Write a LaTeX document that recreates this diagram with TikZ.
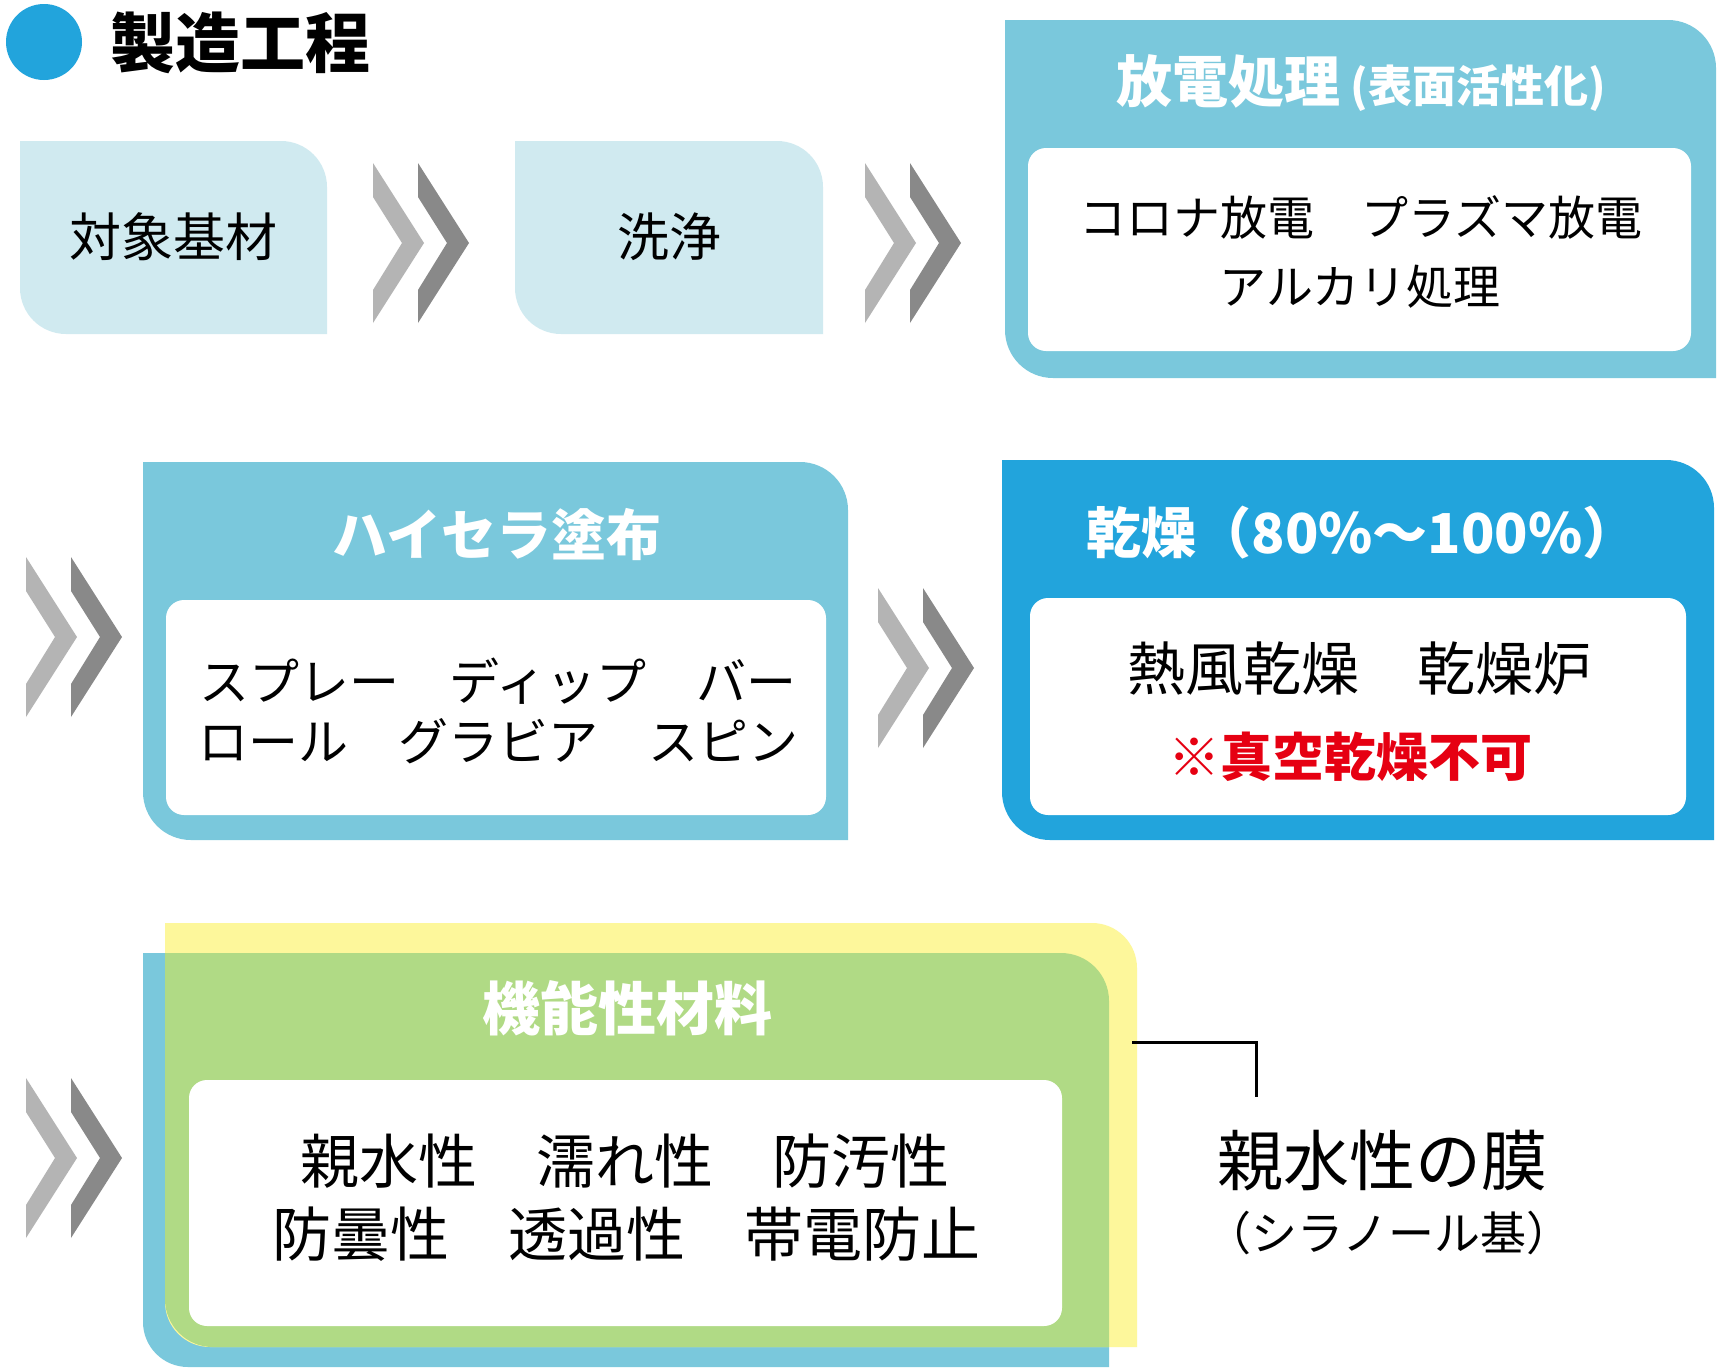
\documentclass[tikz,border=0pt]{standalone}
\usepackage{fontspec}
\setmainfont{Noto Sans CJK JP}
\definecolor{cLight}{HTML}{D0EAF0}
\definecolor{cTeal}{HTML}{7AC8DC}
\definecolor{cBlue}{HTML}{22A4DC}
\definecolor{cGreen}{HTML}{B0DA85}
\definecolor{cYellow}{HTML}{FDF79B}
\definecolor{chevL}{HTML}{B4B4B4}
\definecolor{chevD}{HTML}{898989}
\definecolor{cRed}{HTML}{E60012}
\newcommand\tbbox[6]{%
  \fill[#1] (#2,-#3) -- ({#4-#6},-#3) arc[start angle=90,end angle=0,radius=#6] -- (#4,-#5) -- ({#2+#6},-#5) arc[start angle=270,end angle=180,radius=#6] -- cycle;}
\newcommand\fsz[1]{\fontsize{#1}{#1}\selectfont}
\begin{document}
\begin{tikzpicture}[x=1pt,y=1pt,
  lbl/.style={inner sep=0pt, anchor=center},
  wbox/.style={fill=white, rounded corners=18pt, inner sep=0pt, draw=none},
  ttl/.style={lbl, text=white, font=\bfseries\fsz{55}},
  chev/.pic={
    \fill[chevL] (0,0) -- (51,-80) -- (0,-160) -- (0,-127) -- (29,-80) -- (0,-34) -- cycle;
    \fill[chevD] (45,0) -- (96,-80) -- (45,-160) -- (45,-127) -- (74,-80) -- (45,-34) -- cycle;
  }]
\useasboundingbox (0,0) rectangle (1720,-1368);
\fill[white] (0,0) rectangle (1720,-1368);

% heading
\node[circle, fill=cBlue, minimum size=76pt, inner sep=0pt] (dot) at (44,-42) {};
\node[lbl, font=\bfseries\fsz{65}] (title) at (240,-43) {製造工程};

% row 1
\tbbox{cLight}{20}{141}{327}{334}{46}
\node[lbl, font=\fsz{52}] (t1) at (173,-237) {対象基材};
\pic at (373,-163) {chev};
\tbbox{cLight}{515}{141}{823}{334}{46}
\node[lbl, font=\fsz{52}] (t2) at (669,-237) {洗浄};
\pic at (865,-163) {chev};
\tbbox{cTeal}{1005}{20}{1716}{378}{48}
\node[wbox, minimum width=663pt, minimum height=203pt] (w3) at (1359.5,-249.5) {};
\node[ttl, font=\bfseries\fsz{56}] (t3) at (1361,-83) {放電処理\fsz{44}\ (表面活性化)};
\node[lbl, font=\fsz{47}] (t3a) at (1361,-217) {コロナ放電　プラズマ放電};
\node[lbl, font=\fsz{47}] (t3b) at (1360,-287) {アルカリ処理};

% row 2
\pic at (26,-557) {chev};
\tbbox{cTeal}{143}{462}{848}{840}{48}
\node[wbox, minimum width=660pt, minimum height=215pt] (w4) at (496,-707.5) {};
\node[ttl] (t4) at (497,-534) {ハイセラ塗布};
\node[lbl, font=\fsz{50}] (t4a) at (498,-681) {スプレー　ディップ　バー};
\node[lbl, font=\fsz{50}] (t4b) at (498,-741) {ロール　グラビア　スピン};
\pic at (878,-588) {chev};
\tbbox{cBlue}{1002}{460}{1714}{840}{48}
\node[wbox, minimum width=656pt, minimum height=217pt] (w5) at (1358,-706.5) {};
\node[ttl] (t5) at (1362,-533) {乾燥（80\%～100\%）};
\node[lbl, font=\fsz{58}] (t5a) at (1359,-669) {熱風乾燥　乾燥炉};
\node[lbl, font=\fsz{52}, text=cRed] (t5b) at (1350,-757) {※{\bfseries 真空乾燥不可}};

% row 3
\pic at (26,-1078) {chev};
\fill[cTeal] (143,-953) -- (1109,-953) -- (1109,-1367) -- (188,-1367) arc[start angle=270,end angle=180,radius=45] -- cycle;
\tbbox{cYellow}{165}{923}{1137}{1347}{45}
\tbbox{cGreen}{165}{953}{1109}{1347}{48}
\node[wbox, minimum width=873pt, minimum height=246pt] (w6) at (625.5,-1203) {};
\node[ttl, font=\bfseries\fsz{58}] (t6) at (627,-1008) {機能性材料};
\node[lbl, font=\fsz{59}] (t6a) at (625,-1161) {親水性　濡れ性　防汚性};
\node[lbl, font=\fsz{59}] (t6b) at (626,-1234) {防曇性　透過性　帯電防止};

% annotation
\coordinate (yEast) at (1132,-1042);
\coordinate (lEnd) at (1256,-1097);
\draw[line width=3pt] (yEast) -| (lEnd);
\node[lbl, font=\fsz{66}] (n1) at (1382,-1161) {親水性の膜};
\node[lbl, font=\fsz{46}] (n2) at (1389,-1233) {（シラノール基）};
\end{tikzpicture}
\end{document}
